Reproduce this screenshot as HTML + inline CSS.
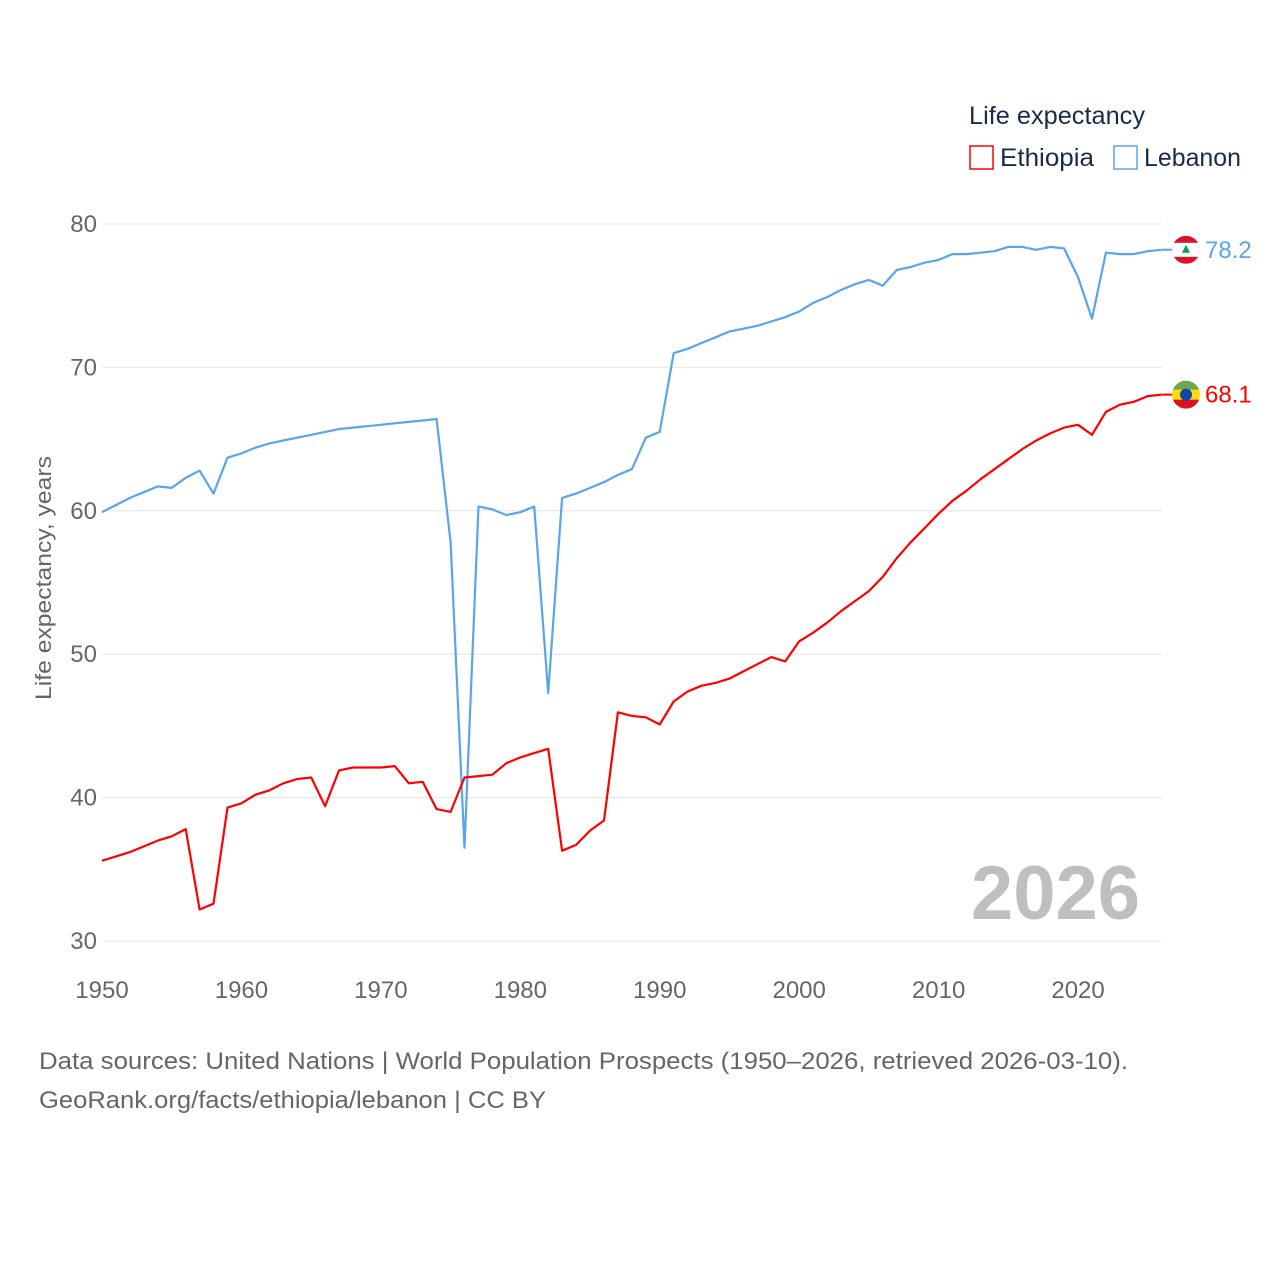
<!DOCTYPE html>
<html><head><meta charset="utf-8">
<style>
body{margin:0;background:#fff;}
svg{display:block;font-family:"Liberation Sans",sans-serif;}
</style></head>
<body>
<svg id="chart" width="1280" height="1280" viewBox="0 0 1280 1280">
  <g id="grid"></g>
  <g id="yticks"></g>
  <g id="xticks"></g>
  <text x="51" y="578" transform="rotate(-90 51 578)" text-anchor="middle" font-size="22" fill="#666" textLength="244" lengthAdjust="spacingAndGlyphs">Life expectancy, years</text>
  <text x="1140" y="919" text-anchor="end" font-size="76" font-weight="bold" fill="#bfbfbf">2026</text>
  <g id="series"></g>
  <g>
    <text x="969" y="124" font-size="25" fill="#1a2b4a" textLength="176" lengthAdjust="spacingAndGlyphs">Life expectancy</text>
    <g>
      <rect x="970" y="146" width="23" height="23" fill="none" stroke="#ff0000" stroke-width="1.5"/>
      <text x="1000" y="166" font-size="25" fill="#1a2b4a" textLength="94" lengthAdjust="spacingAndGlyphs">Ethiopia</text>
    </g>
    <g>
      <rect x="1114" y="146" width="23" height="23" fill="none" stroke="#5aa5ea" stroke-width="1.5"/>
      <text x="1144" y="166" font-size="25" fill="#1a2b4a" textLength="97" lengthAdjust="spacingAndGlyphs">Lebanon</text>
    </g>
  </g>
  <g>
    <text x="39" y="1069" font-size="24" fill="#666" textLength="1089" lengthAdjust="spacingAndGlyphs">Data sources: United Nations | World Population Prospects (1950–2026, retrieved 2026-03-10).</text>
    <text x="39" y="1108" font-size="24" fill="#666" textLength="507" lengthAdjust="spacingAndGlyphs">GeoRank.org/facts/ethiopia/lebanon | CC BY</text>
  </g>
  <g id="ends"></g>
</svg>
<script>
const years = [];
for (let y = 1950; y <= 2026; y++) years.push(y);
const lebanon = [59.9,60.4,60.9,61.3,61.7,61.6,62.3,62.8,61.2,63.7,64.0,64.4,64.7,64.9,65.1,65.3,65.5,65.7,65.8,65.9,66.0,66.1,66.2,66.3,66.4,57.8,36.5,60.3,60.1,59.7,59.9,60.3,47.3,60.9,61.2,61.6,62.0,62.5,62.9,65.1,65.5,71.0,71.3,71.7,72.1,72.5,72.7,72.9,73.2,73.5,73.9,74.5,74.9,75.4,75.8,76.1,75.7,76.8,77.0,77.3,77.5,77.9,77.9,78.0,78.1,78.4,78.4,78.2,78.4,78.3,76.3,73.4,78.0,77.9,77.9,78.1,78.2];
const ethiopia = [35.6,35.9,36.2,36.6,37.0,37.3,37.8,32.2,32.6,39.3,39.6,40.2,40.5,41.0,41.3,41.4,39.4,41.9,42.1,42.1,42.1,42.2,41.0,41.1,39.2,39.0,41.4,41.5,41.6,42.4,42.8,43.1,43.4,36.3,36.7,37.7,38.4,45.95,45.7,45.6,45.1,46.7,47.4,47.8,48.0,48.3,48.8,49.3,49.8,49.5,50.9,51.5,52.2,53.0,53.7,54.4,55.4,56.7,57.8,58.8,59.8,60.7,61.4,62.2,62.9,63.6,64.3,64.9,65.4,65.8,66.0,65.3,66.9,67.4,67.6,68.0,68.1];
const yTicks = [30,40,50,60,70,80];
const xTicks = [1950,1960,1970,1980,1990,2000,2010,2020];

const NS = 'http://www.w3.org/2000/svg';
const X0 = 102, X1 = 1161.7, Y0 = 941, Y1 = 224;
const xs = yr => X0 + (yr - 1950) * (X1 - X0) / 76;
const ys = v => Y0 - (v - 30) * (Y0 - Y1) / 50;
function mk(tag, attrs, parent){const e=document.createElementNS(NS,tag);for(const k in attrs)e.setAttribute(k,attrs[k]);parent.appendChild(e);return e;}

const grid = document.getElementById('grid'), yt = document.getElementById('yticks'), xt = document.getElementById('xticks');
yTicks.forEach(v=>{
  const l = mk('line',{x1:X0,x2:1162,y1:ys(v),y2:ys(v),stroke:'#e6e6e6','stroke-width':1},grid);
  
  
  const t = mk('text',{x:97,y:ys(v)+8,'text-anchor':'end','font-size':24,fill:'#666'},yt);
  t.textContent = v;
  
  
});
xTicks.forEach(v=>{
  const t = mk('text',{x:xs(v),y:998,'text-anchor':'middle','font-size':24,fill:'#666'},xt);
  t.textContent = v;
  
  
});

const sg = document.getElementById('series');
function line(data,color,name){
  const d = data.map((v,i)=>(i?'L':'M')+xs(years[i]).toFixed(1)+' '+ys(v).toFixed(1)).join(' ');
  const p = mk('path',{d:d,fill:'none',stroke:color,'stroke-width':2.2,'stroke-linejoin':'round'},sg);
  
  
}
line(lebanon,'#5aa5ea','lebanon-line');
line(ethiopia,'#ff0000','ethiopia-line');

const ends = document.getElementById('ends');
function endLabel(data,color,name,flag){
  const v = data[data.length-1], cy = ys(v), cx = 1186;
  const g = mk('g',{},ends);
  
  
  mk('line',{x1:1162,x2:cx,y1:cy,y2:cy,stroke:color,'stroke-width':2},g);
  const cid = 'clip-'+name;
  const cp = mk('clipPath',{id:cid},g);
  mk('circle',{cx:cx,cy:cy,r:14},cp);
  const f = mk('g',{'clip-path':'url(#'+cid+')'},g);
  if(flag==='lb'){
    mk('rect',{x:cx-14,y:cy-14,width:28,height:28,fill:'#e0102f'},f);
    mk('rect',{x:cx-14,y:cy-7,width:28,height:14,fill:'#fff'},f);
    mk('path',{d:`M${cx} ${cy-5} L${cx+4} ${cy+3} L${cx-4} ${cy+3}Z`,fill:'#00a651'},f);
  } else {
    mk('rect',{x:cx-14,y:cy-14,width:28,height:10,fill:'#6aa84f'},f);
    mk('rect',{x:cx-14,y:cy-5,width:28,height:10,fill:'#fcdd09'},f);
    mk('rect',{x:cx-14,y:cy+5,width:28,height:10,fill:'#da121a'},f);
    mk('circle',{cx:cx,cy:cy,r:6,fill:'#0f47af'},f);
  }
  const t = mk('text',{x:1205,y:cy+8,'font-size':24,fill:color},g);
  t.textContent = v.toFixed(1);
}
endLabel(lebanon,'#5aa5ea','lebanon-end-label','lb');
endLabel(ethiopia,'#ff0000','ethiopia-end-label','et');
</script>
</body></html>
